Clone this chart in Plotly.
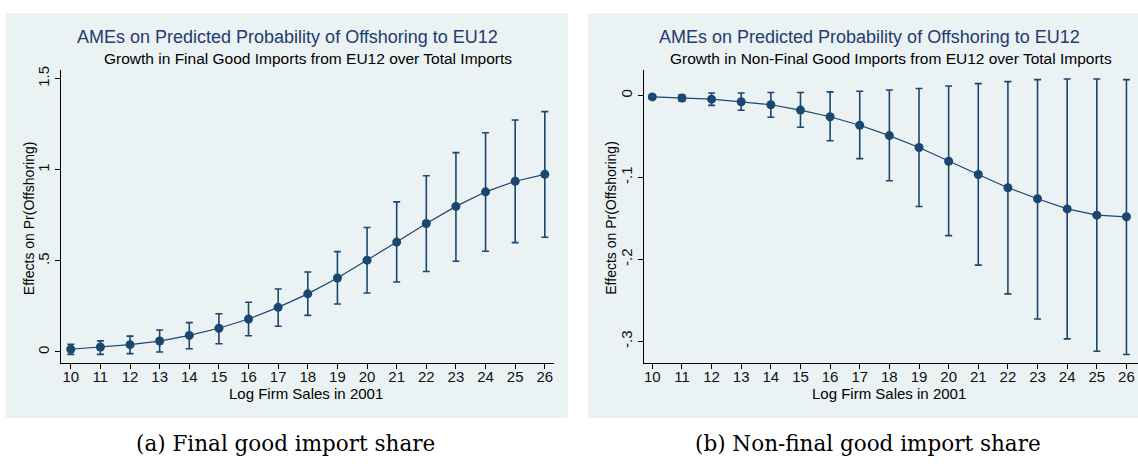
import plotly.graph_objects as go

# ---- data ----
log_sales = [10, 11, 12, 13, 14, 15, 16, 17, 18, 19, 20, 21, 22, 23, 24, 25, 26]

final_est = [0.015, 0.027, 0.040, 0.060, 0.091, 0.130, 0.181, 0.245, 0.319, 0.406,
             0.504, 0.603, 0.705, 0.799, 0.879, 0.937, 0.975]
final_lo = [-0.013, -0.013, -0.009, 0.000, 0.018, 0.045, 0.089, 0.141, 0.201, 0.263,
            0.324, 0.384, 0.442, 0.498, 0.553, 0.600, 0.630]
final_hi = [0.042, 0.061, 0.087, 0.121, 0.161, 0.210, 0.273, 0.346, 0.439, 0.551,
            0.683, 0.824, 0.967, 1.094, 1.203, 1.273, 1.319]

nonfinal_est = [-0.0017, -0.0030, -0.0045, -0.0077, -0.0113, -0.0178, -0.0259, -0.0363,
                -0.0489, -0.0634, -0.0803, -0.0964, -0.1125, -0.1260, -0.1384, -0.1460, -0.1480]
nonfinal_lo = [-0.0045, -0.0070, -0.0120, -0.0180, -0.0266, -0.0387, -0.0553, -0.0770,
               -0.1040, -0.1355, -0.1710, -0.2070, -0.2420, -0.2727, -0.2970, -0.3120, -0.3160]
nonfinal_hi = [0.0010, 0.0010, 0.0030, 0.0030, 0.0036, 0.0036, 0.0044, 0.0052,
               0.0068, 0.0085, 0.0116, 0.0145, 0.0169, 0.0194, 0.0201, 0.0201, 0.0194]

left_yticks = [0, 0.5, 1, 1.5]
left_yticktext = ["0", ".5", "1", "1.5"]
right_yticks = [0, -0.1, -0.2, -0.3]
right_yticktext = ["0", "-.1", "-.2", "-.3"]

title_main = "AMEs on Predicted Probability of Offshoring to EU12"
sub_left = "Growth in Final Good Imports from EU12 over Total Imports"
sub_right = "Growth in Non-Final Good Imports from EU12 over Total Imports"
ytitle = "Effects on Pr(Offshoring)"
xtitle = "Log Firm Sales in 2001"
cap_left = "(a) Final good import share"
cap_right = "(b) Non-final good import share"

# ---- styles ----
W, H = 1138, 464
NAVY = "#1a476f"
BG = "#eaf2f3"
FONT = "Liberation Sans, Arial, sans-serif"


def px(x):
    return x / W


def py(y):
    return 1 - y / H


fig = go.Figure()


def add_series(est, lo, hi, xa, ya):
    up = [h - e for h, e in zip(hi, est)]
    dn = [e - l for e, l in zip(est, lo)]
    fig.add_trace(go.Scatter(
        x=log_sales, y=est, xaxis=xa, yaxis=ya, mode="lines+markers",
        line=dict(color=NAVY, width=1.2),
        marker=dict(color=NAVY, size=9),
        error_y=dict(type="data", symmetric=False, array=up, arrayminus=dn,
                     color=NAVY, thickness=1.6, width=3.5),
        showlegend=False, hoverinfo="skip"))


add_series(final_est, final_lo, final_hi, "x", "y")
add_series(nonfinal_est, nonfinal_lo, nonfinal_hi, "x2", "y2")

ydom = [py(362.3), py(66.5)]
axis_common = dict(showline=True, linecolor="black", linewidth=1.2,
                   ticks="outside", ticklen=5, tickcolor="black", zeroline=False,
                   tickfont=dict(family=FONT, size=15, color="#111"))

fig.update_layout(
    width=W, height=H, margin=dict(l=0, r=0, t=0, b=0),
    paper_bgcolor="white", plot_bgcolor="white",
    xaxis=dict(domain=[px(61), px(554)], range=[9.67, 26.31], anchor="y",
               tickvals=log_sales, showgrid=False, ticklabelstandoff=-5, **axis_common),
    yaxis=dict(domain=ydom, range=[-0.0615, 1.548], anchor="x",
               tickvals=left_yticks, ticktext=left_yticktext, tickangle=-90,
               showgrid=True, gridcolor=BG, gridwidth=1, **axis_common),
    xaxis2=dict(domain=[px(644.3), 1.0], range=[9.73, 26.39], anchor="y2",
                tickvals=log_sales, showgrid=False, ticklabelstandoff=-5, **axis_common),
    yaxis2=dict(domain=ydom, range=[-0.3266, 0.0312], anchor="x2",
                tickvals=right_yticks, ticktext=right_yticktext, tickangle=-90,
                showgrid=True, gridcolor=BG, gridwidth=1, **axis_common),
)

# panel backgrounds
for x0, x1 in [(5.7, 567.7), (588.3, 1150)]:
    fig.add_shape(type="rect", xref="paper", yref="paper",
                  x0=px(x0), x1=px(x1), y0=py(417.5), y1=py(9),
                  fillcolor=BG, line=dict(width=0), layer="below")

ann = []
for off, sub, cap in [(0, sub_left, cap_left), (582.6, sub_right, cap_right)]:
    ann.append(dict(x=px(287 + off), y=py(33.5), text=title_main,
                    font=dict(family=FONT, size=18, color="#233b6e")))
    ann.append(dict(x=px(308 + off), y=py(54.5), text=sub,
                    font=dict(family=FONT, size=15.5, color="black")))
    ann.append(dict(x=px(29 + off), y=py(216), text=ytitle, textangle=-90,
                    font=dict(family=FONT, size=14, color="black")))
    ann.append(dict(x=px(306 + off), y=py(393), text=xtitle,
                    font=dict(family=FONT, size=15, color="black")))
    ann.append(dict(x=px(285 + off), y=py(443), text=cap,
                    font=dict(family="DejaVu Serif, serif", size=21.5, color="black")))
for a in ann:
    a.update(xref="paper", yref="paper", showarrow=False, xanchor="center", yanchor="middle")
fig.update_layout(annotations=ann)

fig.write_html("out.html", config={"displayModeBar": False},
               post_script="document.body.style.margin='0';")
